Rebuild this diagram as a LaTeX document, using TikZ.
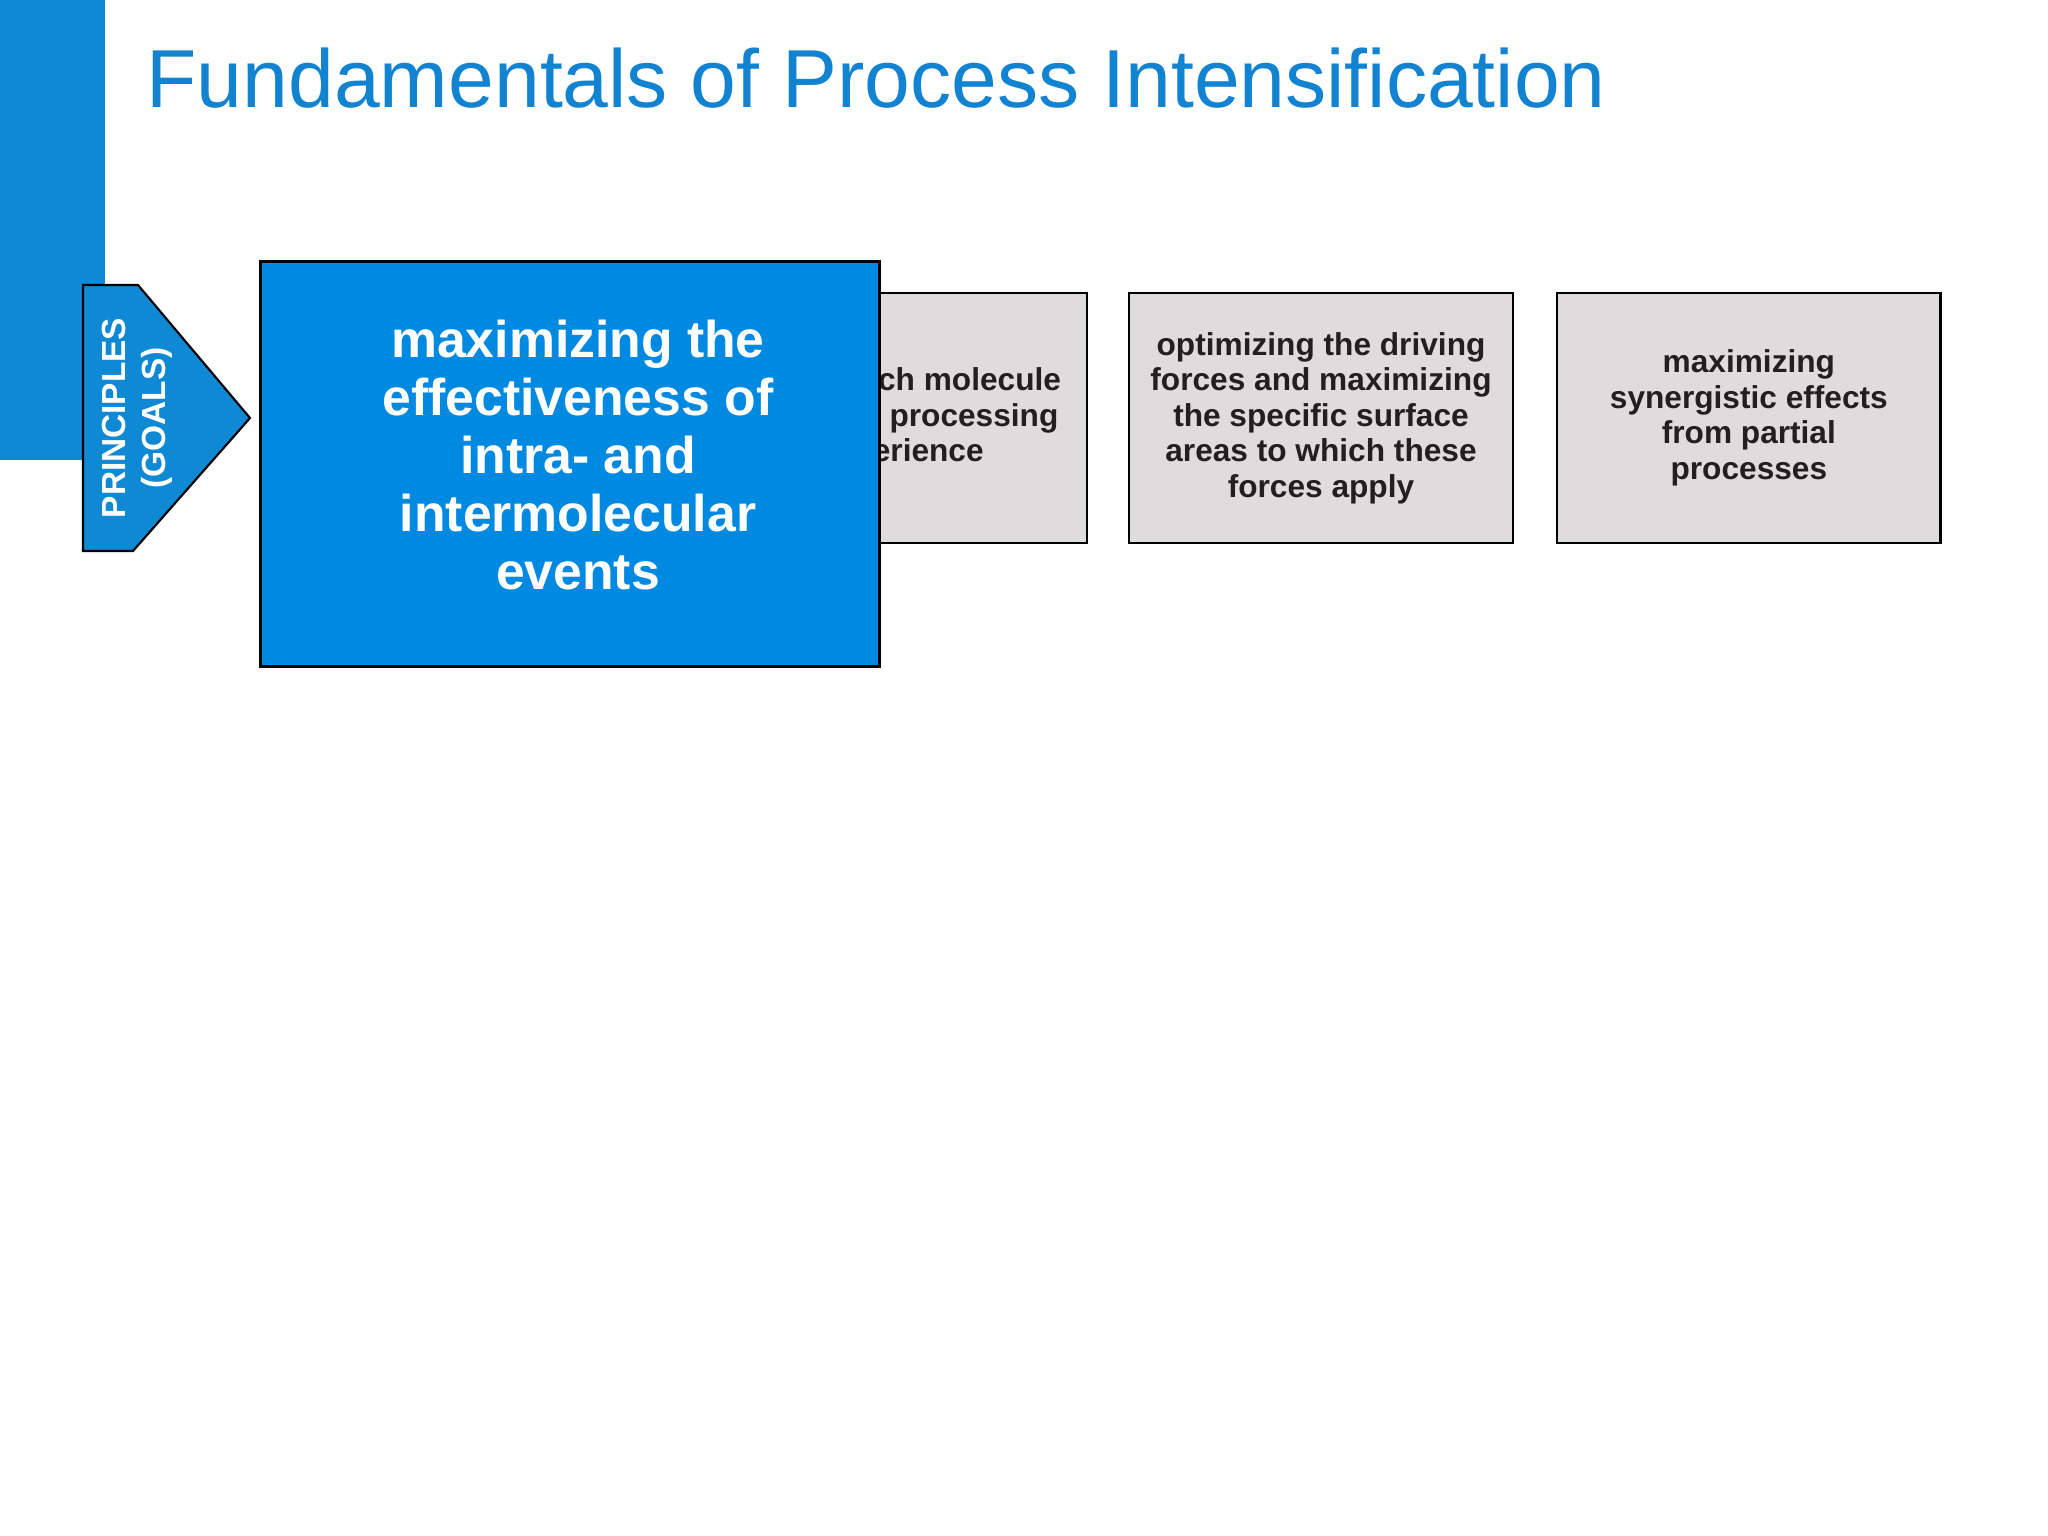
\documentclass[tikz,border=0pt]{standalone}
\usepackage{fontspec}
\setmainfont{Liberation Sans}
\usepackage{xcolor}
\usetikzlibrary{positioning}

\definecolor{barblue}{RGB}{15,137,212}
\definecolor{titleblue}{RGB}{18,131,208}
\definecolor{mainblue}{RGB}{0,137,224}
\definecolor{boxgray}{RGB}{222,220,221}
\definecolor{inkdark}{RGB}{35,31,32}

\begin{document}
\begin{tikzpicture}[x=0.01cm, y=-0.01cm,
  goalbox/.style={draw=black, line width=0.6pt, fill=boxgray, text=inkdark,
    inner sep=0pt, align=center, minimum height=2.5cm,
    font=\bfseries\fontsize{9}{10.1}\selectfont},
  mainbox/.style={draw=black, line width=0.9pt, fill=mainblue,
    inner sep=0pt, minimum width=6.19cm, minimum height=4.04cm},
  maintext/.style={text=white, inner sep=0pt, align=center,
    font=\bfseries\fontsize{14.7}{16.5}\selectfont}]

  % page and frame
  \useasboundingbox[fill=white] (0,0) rectangle (2048,1536);
  \fill[barblue] (0,0) rectangle (105,460);

  % title
  \node[anchor=base west, inner sep=0pt, text=titleblue,
    font=\fontsize{23.4}{28}\selectfont] (title) at (146,107)
  {Fundamentals of Process Intensification};

  % pointer on the left
  \coordinate (ptop) at (83,285);
  \coordinate (pbot) at (83,551);
  \filldraw[fill=barblue, draw=black, line width=0.6pt]
    (ptop) -- (138,285) -- (250,418) -- (133,551) -- (pbot) -- cycle;
  \node[rotate=90, align=center, text=white, inner sep=0pt,
    font=\bfseries\fontsize{9.5}{11.4}\selectfont] (goals) at (137,418)
  {PRINCIPLES\\(GOALS)};

  % principle boxes
  \node[goalbox, minimum width=3.72cm] (same) at (901,418)
  {giving each molecule\\the same processing\\experience};
  \node[goalbox, minimum width=3.84cm] (forces) at (1321,418)
  {optimizing the driving\\forces and maximizing\\the specific surface\\areas to which these\\forces apply};
  \node[goalbox, minimum width=3.83cm, right=0.42cm of forces] (synergy)
  {maximizing\\synergistic effects\\from partial\\processes};

  % highlighted principle on top
  \node[mainbox] (events) at (570,464) {};
  \node[maintext] (eventstext) at ([shift={(8,-9)}]events.center)
  {maximizing the\\effectiveness of\\intra- and\\intermolecular\\events};
\end{tikzpicture}
\end{document}
